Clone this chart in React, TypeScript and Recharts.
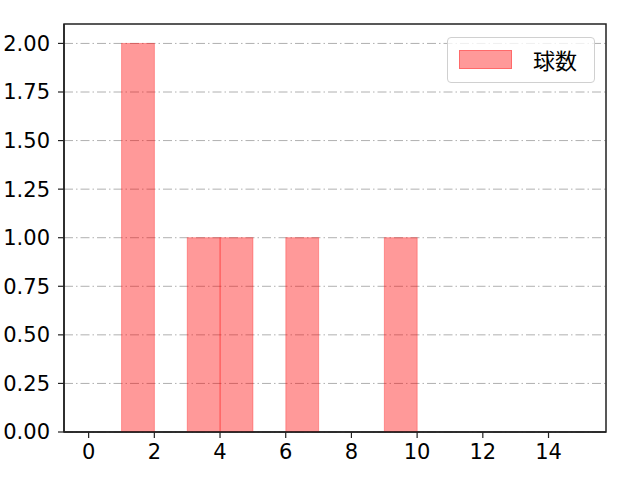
import { Bar, BarChart, CartesianGrid, Legend, ReferenceArea, XAxis, YAxis } from "recharts";

// histogram bins (left edge, width 1) and counts
const binStarts = [1, 3, 4, 6, 9];
const counts = [2, 1, 1, 1, 1];
const xTicks = [0, 2, 4, 6, 8, 10, 12, 14];
const yTicks = [0, 0.25, 0.5, 0.75, 1, 1.25, 1.5, 1.75, 2];
const seriesName = "球数";

const data = binStarts.map((s, i) => ({ mid: s + 0.5, count: counts[i] }));

const FONT = "'DejaVu Sans', 'Noto Sans CJK JP', sans-serif";
const CJK_FONT = "'Noto Sans CJK JP', sans-serif";
const X_MIN = -0.75;
const X_MAX = 15.75;
const Y_MAX = 2.1;
const PLOT_W = 542;
const UNIT = PLOT_W / (X_MAX - X_MIN);

// full bin-width rectangle around the centre the bar scale gives
function HistBar(props: any) {
	const { x, y, width, height } = props;
	const cx = x + width / 2;
	return (
		<rect
			x={cx - UNIT / 2}
			y={y}
			width={UNIT}
			height={height}
			fill="rgba(255,0,0,0.4)"
			stroke="rgba(255,0,0,0.3)"
			strokeWidth={1}
		/>
	);
}

function LegendBox() {
	return (
		<div
			style={{
				position: "absolute",
				left: 447,
				top: 37,
				width: 148,
				height: 46,
				border: "1px solid #d0d0d0",
				borderRadius: 4,
				background: "rgba(255,255,255,0.8)",
				boxSizing: "border-box",
				fontFamily: CJK_FONT,
				fontSize: 22,
				lineHeight: 1,
			}}
		>
			<div
				style={{
					position: "absolute",
					left: 11,
					top: 12,
					width: 53,
					height: 19,
					background: "rgba(255,0,0,0.4)",
					border: "1px solid rgba(255,0,0,0.3)",
					boxSizing: "border-box",
				}}
			/>
			<div style={{ position: "absolute", left: 85, top: 10, color: "#000" }}>
				{seriesName}
			</div>
		</div>
	);
}

export default function App() {
	return (
		<div style={{ position: "absolute", left: 0, top: 0, width: 640, height: 480, background: "#fff" }}>
			<BarChart
				width={640}
				height={480}
				data={data}
				barCategoryGap={0}
				barGap={0}
				margin={{ top: 24, right: 34, left: 0, bottom: 0 }}
				style={{ fontFamily: FONT }}
			>
				<CartesianGrid
					vertical={false}
					stroke="#b0b0b0"
					strokeDasharray="9 3 1.5 3"
					horizontalValues={yTicks}
				/>
				<XAxis
					dataKey="mid"
					type="number"
					domain={[X_MIN, X_MAX]}
					ticks={xTicks}
					allowDataOverflow
					height={48}
					interval={0}
					tick={{ fill: "#000", fontSize: 21 }}
					tickSize={6}
					tickMargin={6}
					axisLine={{ stroke: "#222", strokeWidth: 1.5 }}
					tickLine={{ stroke: "#222", strokeWidth: 1.2 }}
				/>
				<YAxis
					type="number"
					domain={[0, Y_MAX]}
					ticks={yTicks}
					width={64}
					allowDataOverflow
					tickFormatter={(v: number) => v.toFixed(2)}
					tick={{ fill: "#000", fontSize: 21 }}
					tickSize={6}
					tickMargin={8}
					axisLine={{ stroke: "#222", strokeWidth: 1.5 }}
					tickLine={{ stroke: "#222", strokeWidth: 1.2 }}
				/>
				<Legend content={() => null} />
				<Bar
					dataKey="count"
					name={seriesName}
					shape={HistBar}
					fill="rgba(255,0,0,0.4)"
					isAnimationActive={false}
				/>
				<ReferenceArea
					x1={X_MIN}
					x2={X_MAX}
					y1={0}
					y2={Y_MAX}
					fill="none"
					fillOpacity={0}
					stroke="#222"
					strokeWidth={1.5}
					strokeOpacity={1}
				/>
			</BarChart>
			<LegendBox />
		</div>
	);
}
